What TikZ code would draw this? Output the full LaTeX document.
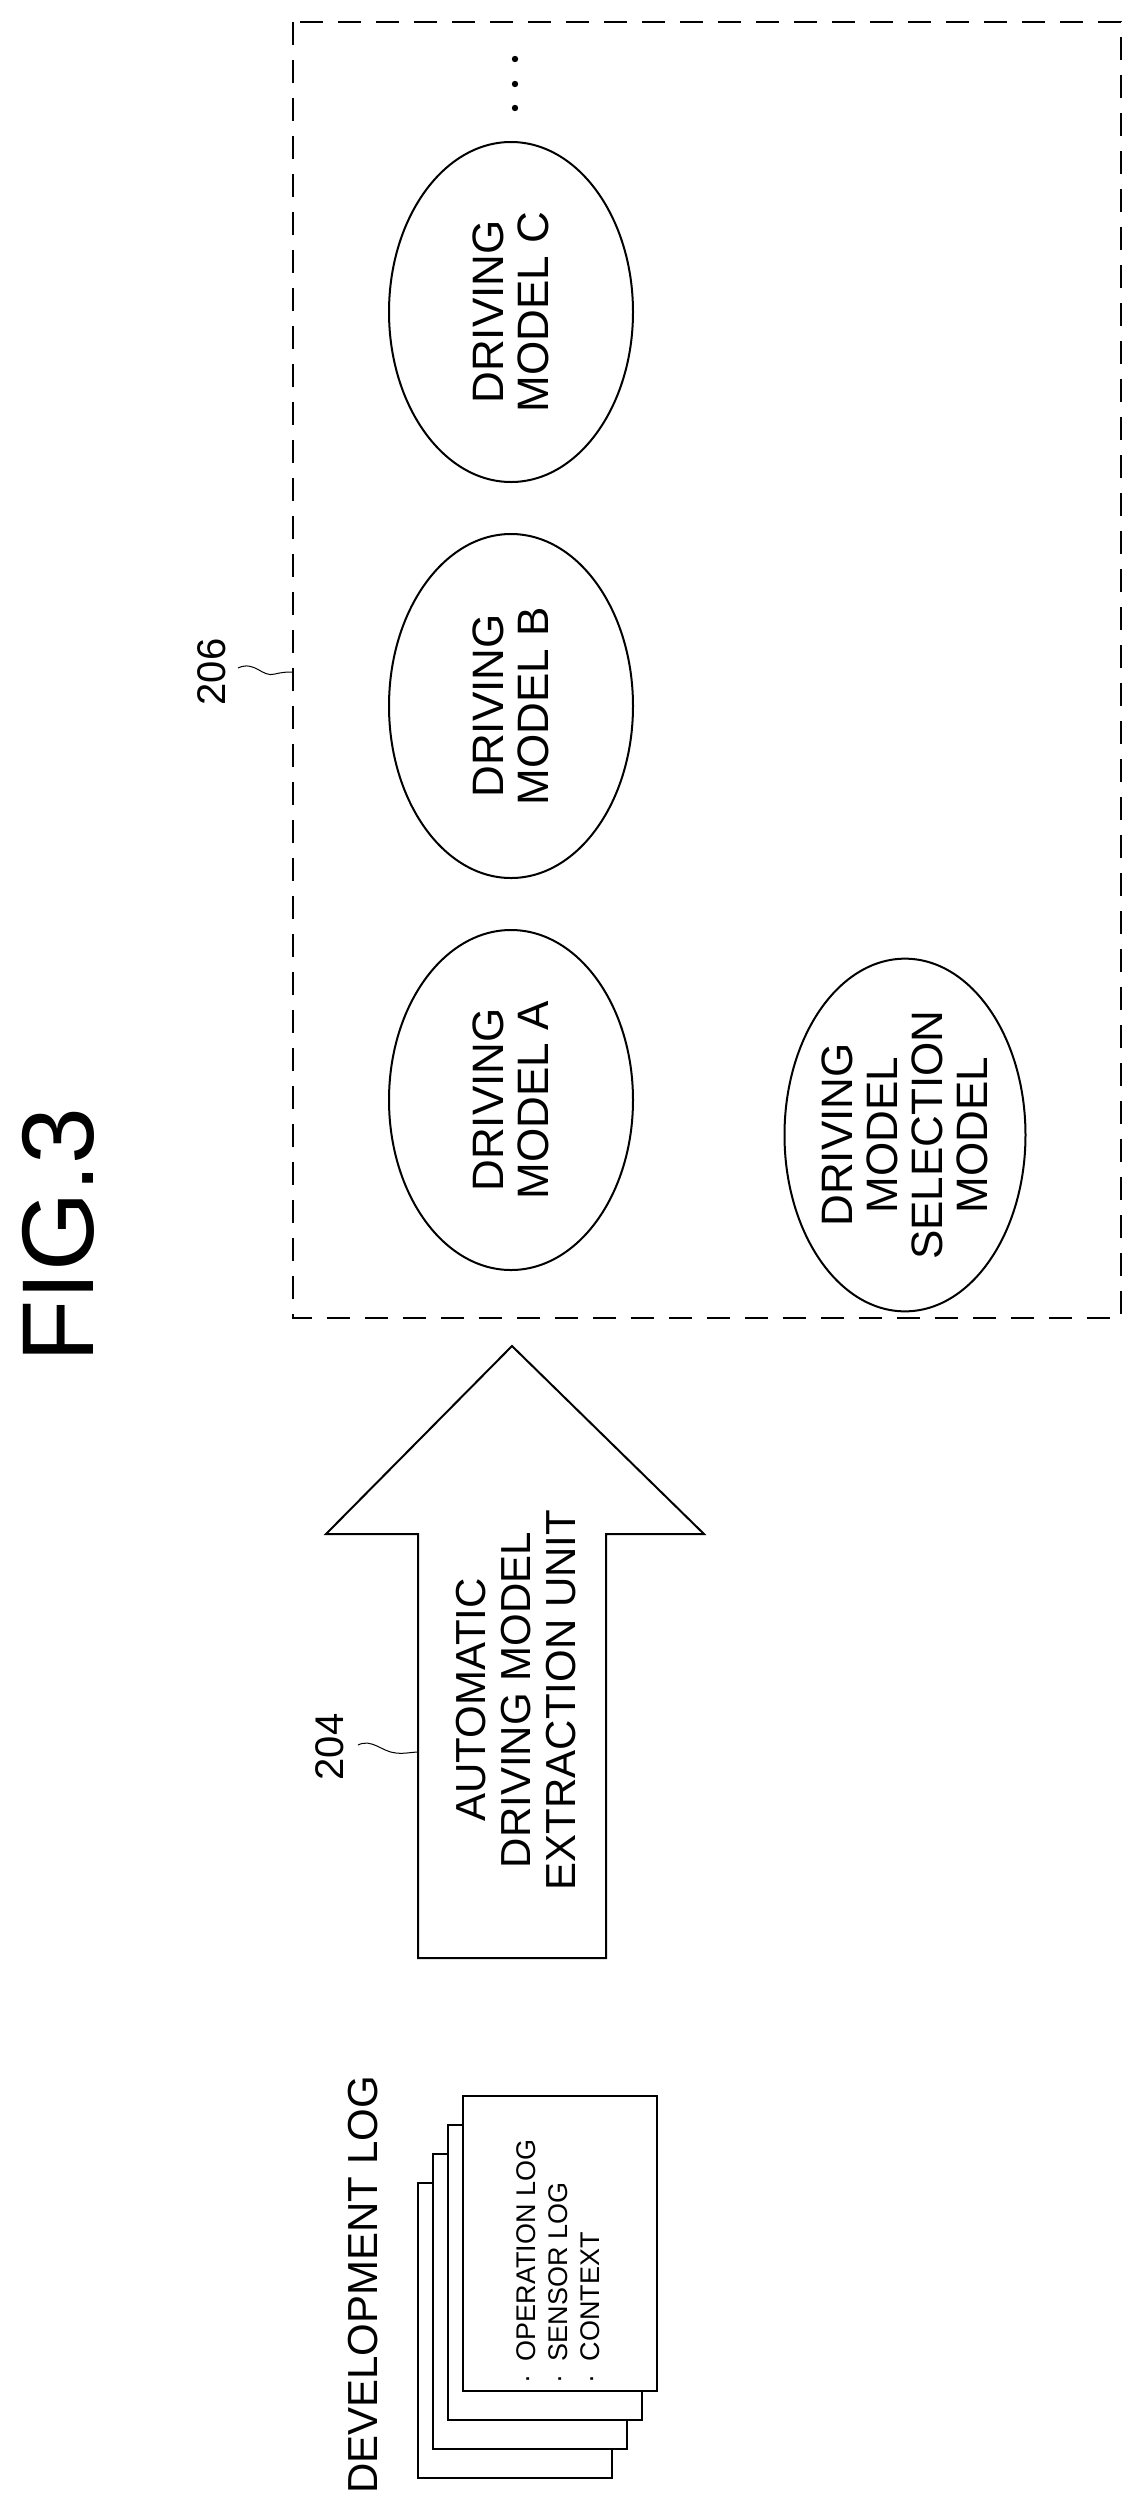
\documentclass[tikz,border=0pt]{standalone}
\usepackage{fontspec}
\setmainfont{Liberation Sans}
\usetikzlibrary{shapes.geometric,positioning}
\tikzset{
  line/.style={draw=black, line width=2pt},
  model/.style={line, ellipse, rotate=90, align=center, inner sep=0pt,
    font=\fontsize{44}{45}\selectfont},
  sheet/.style={line, fill=white},
  tag/.style={rotate=90, font=\fontsize{40}{44}\selectfont},
}
\begin{document}
\begin{tikzpicture}[x=1pt, y=-1pt]
  \useasboundingbox (0,0) rectangle (1139,2517);
  % title
  \node[rotate=90, font=\fontsize{102}{104}\selectfont] (fig) at (58,1235) {FIG.3};
  % model storage
  \draw[line, dash pattern=on 23pt off 15pt] (293,22) rectangle (1121,1318);
  \node[model, minimum width=340pt, minimum height=244pt] (ma) at (511,1100) {DRIVING\\MODEL A};
  \node[model, minimum width=344pt, minimum height=244pt] (mb) at (511,706) {DRIVING\\MODEL B};
  \node[model, minimum width=340pt, minimum height=244pt] (mc) at (511,312) {DRIVING\\MODEL C};
  \node[model, minimum width=314pt, minimum height=241pt] (msel) at (905,1135) {DRIVING\\MODEL\\SELECTION\\MODEL};
  \foreach \y in {59,84,108}
    \fill (515,\y) circle (3.2pt);
  \node[tag] (n206) at (212,672) {206};
  \coordinate (b206) at (293,672);
  \draw[line width=1pt] (238,668) .. controls (255,660) and (262,678) .. (275,674) .. controls (283,672) and (288,672) .. (b206);
  % extraction arrow
  \coordinate (tip) at (512,1346);
  \draw[line] (tip) -- (704,1534) -- (606,1534) -- (606,1958) -- (418,1958) -- (418,1534) -- (326,1534) -- cycle;
  \node[rotate=90, align=center, font=\fontsize{42}{45}\selectfont] (unit) at (516,1700)
    {AUTOMATIC\\DRIVING MODEL\\EXTRACTION UNIT};
  \node[tag] (n204) at (330,1747) {204};
  \coordinate (b204) at (418,1752);
  \draw[line width=1pt] (358,1745) .. controls (372,1738) and (382,1752) .. (396,1753) .. controls (405,1754) and (412,1752) .. (b204);
  % development log
  \node[rotate=90, font=\fontsize{42}{44}\selectfont] (devlog) at (363,2285) {DEVELOPMENT LOG};
  \foreach \i in {3,2,1,0}
    \draw[sheet] ({463-15*\i},{2096+29*\i}) rectangle ({657-15*\i},{2391+29*\i});
  \node[rotate=90, anchor=north west, align=left, inner sep=0pt,
    font=\fontsize{27}{32}\selectfont] (items) at (516,2384)
    {·\enspace OPERATION LOG\\·\enspace SENSOR LOG\\·\enspace CONTEXT};
\end{tikzpicture}
\end{document}
